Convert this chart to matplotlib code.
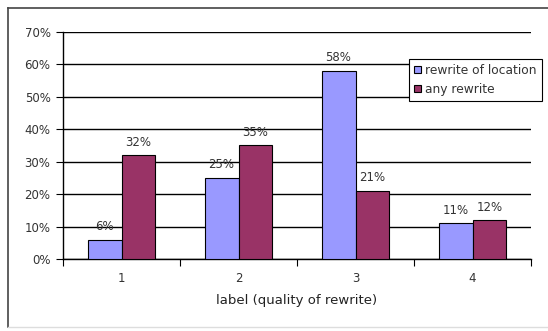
import matplotlib
matplotlib.use("Agg")
import matplotlib.pyplot as plt
from matplotlib.lines import Line2D
import numpy as np

# Share of labels per rewrite quality score
categories = ["1", "2", "3", "4"]
location_pct = [6, 25, 58, 11]
any_pct = [32, 35, 21, 12]

plt.rcParams['font.family'] = ['DejaVu Sans']

fig = plt.figure(figsize=(5.48, 3.31), dpi=100)
ax = fig.add_axes([0.115, 0.2175, 0.854, 0.686])

# outer chart border: dark left/top, faint bottom
fx0, fy0, fy1 = 7.5 / 548, 1 - 327 / 331, 1 - 7.5 / 331
fig.lines.append(Line2D([fx0, fx0], [fy0, fy1], transform=fig.transFigure,
                        color="#444444", linewidth=1.2))
fig.lines.append(Line2D([fx0, 1.0], [fy1, fy1], transform=fig.transFigure,
                        color="#444444", linewidth=1.2))
fig.lines.append(Line2D([fx0, 1.0], [fy0, fy0], transform=fig.transFigure,
                        color="#dddddd", linewidth=1.0))

x = np.arange(len(categories))
w = 0.29
b1 = ax.bar(x - w / 2, location_pct, w, color="#9999FF", edgecolor="black",
            linewidth=0.8, label="rewrite of location", zorder=3)
b2 = ax.bar(x + w / 2, any_pct, w, color="#993366", edgecolor="black",
            linewidth=0.8, label="any rewrite", zorder=3)

for bars, vals in ((b1, location_pct), (b2, any_pct)):
    for r, v in zip(bars, vals):
        ax.text(r.get_x() + r.get_width() / 2, v + 2.0, f"{v}%",
                ha="center", va="bottom", fontsize=8.5, color="#333333")

ax.set_xlim(-0.5, 3.5)
ax.set_ylim(0, 70)
ax.set_yticks(range(0, 71, 10))
ax.set_yticklabels([f"{t}%" for t in range(0, 71, 10)], fontsize=8.5,
                   color="#333333")
ax.yaxis.grid(True, color="black", linewidth=1.0, zorder=0)

# category ticks at boundaries, labels in the middle
ax.set_xticks(np.arange(-0.5, 4, 1))
ax.set_xticklabels([])
ax.set_xticks(x, minor=True)
ax.set_xticklabels(categories, minor=True, fontsize=8.5, color="#333333")
ax.tick_params(axis="x", which="minor", length=0, pad=9)
ax.tick_params(axis="x", which="major", length=5, direction="out")
ax.tick_params(axis="y", length=5, direction="out", pad=4)

for s in ("top", "right"):
    ax.spines[s].set_visible(False)
ax.spines["left"].set_linewidth(1.0)
ax.spines["bottom"].set_linewidth(1.0)

ax.set_xlabel("label (quality of rewrite)", fontsize=9.5, labelpad=7,
              color="#222222")

leg = fig.legend(loc="upper left", bbox_to_anchor=(0.746, 0.822),
                 fontsize=8.8, frameon=True, fancybox=False, framealpha=1,
                 handlelength=0.6, handleheight=0.6, handletextpad=0.35,
                 borderpad=0.4, labelspacing=0.5, borderaxespad=0)
leg.get_frame().set_edgecolor("black")
leg.get_frame().set_linewidth(0.8)
for t in leg.get_texts():
    t.set_color("#333333")

fig.savefig("out.png", dpi=100)
